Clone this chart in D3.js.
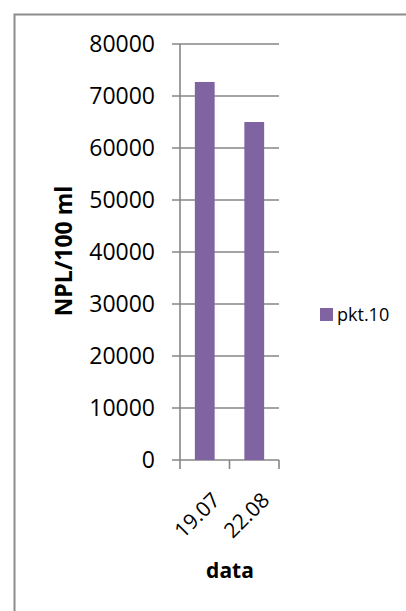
<!DOCTYPE html>
<html>
<head>
<meta charset="utf-8">
<script src="https://cdn.jsdelivr.net/npm/d3@7"></script>
<style>
  html, body { margin: 0; padding: 0; background: #fff; }
  svg { display: block; }
  text { font-family: "Open Sans", "Noto Sans", sans-serif; fill: #000; }
</style>
</head>
<body>
<svg id="chart" width="406" height="611"></svg>
<script>
// Sample dates and counts (NPL per 100 ml) for point 10
const categories = ["19.07", "22.08"];
const values = [72700, 65000];
const seriesName = "pkt.10";
const yTicks = [0, 10000, 20000, 30000, 40000, 50000, 60000, 70000, 80000];

const svg = d3.select("#chart");
const gridColor = "#868686";
const barColor = "#8064A2";

// chart area frame
svg.append("path")
  .attr("d", "M14.5,611 V14.5 H406")
  .attr("fill", "none")
  .attr("stroke", "#8c8c8c")
  .attr("stroke-width", 2);

const plot = { left: 180, right: 279, top: 44, bottom: 460 };

const y = d3.scaleLinear().domain([0, 80000]).range([plot.bottom, plot.top]);
const x = d3.scaleBand().domain(categories)
  .range([plot.left, plot.right])
  .paddingInner(0.6).paddingOuter(0.3);
const xEdges = d3.scalePoint().domain(d3.range(categories.length + 1))
  .range([plot.left, plot.right]);

// horizontal gridlines with short ticks to the left of the axis
svg.append("g").selectAll("line").data(yTicks).join("line")
  .attr("x1", plot.left - 8).attr("x2", plot.right)
  .attr("y1", d => y(d)).attr("y2", d => y(d))
  .attr("stroke", gridColor).attr("stroke-width", 1.6);

// y tick labels
svg.append("g").selectAll("text").data(yTicks).join("text")
  .attr("x", 155).attr("y", d => y(d))
  .attr("text-anchor", "end")
  .attr("dy", "0.36em")
  .style("font-size", "23px")
  .text(d => d);

// bars
svg.append("g").selectAll("rect").data(values).join("rect")
  .attr("x", (d, i) => x(categories[i]))
  .attr("width", x.bandwidth())
  .attr("y", d => y(d))
  .attr("height", d => y(0) - y(d))
  .attr("fill", barColor);

// vertical axis line
svg.append("line")
  .attr("x1", plot.left).attr("x2", plot.left)
  .attr("y1", plot.top).attr("y2", plot.bottom)
  .attr("stroke", gridColor).attr("stroke-width", 1.6);

// category axis tick marks between categories
svg.append("g").selectAll("line").data(xEdges.domain()).join("line")
  .attr("x1", d => xEdges(d)).attr("x2", d => xEdges(d))
  .attr("y1", plot.bottom).attr("y2", plot.bottom + 9)
  .attr("stroke", gridColor).attr("stroke-width", 1.6);

// rotated category labels
svg.append("g").selectAll("text").data(categories).join("text")
  .attr("transform", d => `translate(${x(d) + x.bandwidth() / 2 + 6},${plot.bottom + 31}) rotate(-45)`)
  .attr("text-anchor", "end")
  .attr("dy", "0.7em")
  .style("font-size", "21px")
  .text(d => d);

// axis titles
svg.append("text")
  .attr("transform", `translate(72,251) rotate(-90)`)
  .attr("text-anchor", "middle")
  .style("font-size", "23px").style("font-weight", "bold")
  .text("NPL/100 ml");

svg.append("text")
  .attr("x", 230).attr("y", 578)
  .attr("text-anchor", "middle")
  .style("font-size", "21px").style("font-weight", "bold")
  .text("data");

// legend
const legend = svg.append("g").attr("transform", "translate(320,308)");
legend.append("rect").attr("width", 13).attr("height", 13).attr("fill", barColor);
legend.append("text").attr("x", 17).attr("y", 6.5).attr("dy", "0.36em")
  .style("font-size", "18px").text(seriesName);
</script>
</body>
</html>
